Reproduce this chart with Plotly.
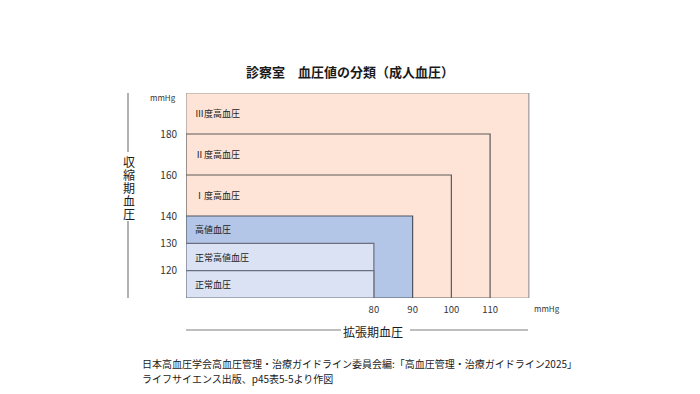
import plotly.graph_objects as go

# ---- data ----
categories = ["Ⅲ度高血圧", "Ⅱ度高血圧", "Ⅰ度高血圧", "高値血圧", "正常高値血圧", "正常血圧"]
dbp_upper = [120, 110, 100, 90, 80, 80]          # diastolic upper bound (mmHg)
sbp_upper = [200, 180, 160, 140, 130, 120]       # systolic upper bound (mmHg)
fill_colors = ["#FDE4D6", "#FDE4D6", "#FDE4D6", "#B4C6E7", "#DAE2F3", "#DAE2F3"]
x_ticks = [80, 90, 100, 110]
y_ticks = [120, 130, 140, 160, 180]

title = "診察室\u3000血圧値の分類（成人血圧）"
x_title = "拡張期血圧"
y_title = "収縮期血圧"
source_lines = ["日本高血圧学会高血圧管理・治療ガイドライン委員会編:「高血圧管理・治療ガイドライン2025」",
                "ライフサイエンス出版、p45表5-5より作図"]

FONT = "Noto Sans CJK JP"
X_LEFT = 31.5
X_RIGHT = 120.3


def sbp_pos(s):
    # schematic (non-linear) systolic scale: 10 mmHg steps below 140, 20 mmHg steps above
    if s <= 140:
        return (s - 110) / 10
    return 3 + (s - 140) / 20 * 1.5


Y_TOP = sbp_pos(200)

W, H = 700, 394
ML, MR, MT, MB = 186, 170, 93, 96
PW, PH = W - ML - MR, H - MT - MB


def px(xp):
    return (xp - ML) / PW


def py(yp):
    return (H - MB - yp) / PH


fig = go.Figure()
# invisible trace to set up axes
fig.add_trace(go.Scatter(x=[X_LEFT, X_RIGHT], y=[0, Y_TOP], mode="markers",
                         marker=dict(opacity=0), hoverinfo="skip", showlegend=False))

shapes = []
annotations = []
border_colors = ["#9A9A9A", "#5A5A5A", "#5A5A5A", "#4F5560", "#6B7080", "#6B7080"]
for i, (cat, d, s, c) in enumerate(zip(categories, dbp_upper, sbp_upper, fill_colors)):
    shapes.append(dict(type="rect", xref="x", yref="y", x0=X_LEFT, x1=d, y0=0, y1=sbp_pos(s),
                       fillcolor=c, line=dict(color=border_colors[i], width=1.2), layer="below"))
    lower = sbp_upper[i + 1] if i + 1 < len(sbp_upper) else 110
    ymid = (sbp_pos(s) + sbp_pos(lower)) / 2
    annotations.append(dict(x=X_LEFT, y=ymid, xref="x", yref="y", text=cat, showarrow=False,
                            xanchor="left", yanchor="middle", xshift=7,
                            font=dict(family=FONT, size=9, color="#222")))


def pa(text, x, y, size, xanchor="center", **kw):
    return dict(text=text, x=px(x), y=py(y), xref="paper", yref="paper", showarrow=False,
                xanchor=xanchor, yanchor="middle", font=dict(family=FONT, size=size, color="#1a1a1a"), **kw)


annotations += [
    pa("<b>" + title + "</b>", 350, 72, 13),
    dict(text="mmHg", x=X_LEFT, y=Y_TOP, xref="x", yref="y", showarrow=False,
         xanchor="right", yanchor="middle", xshift=-8, yshift=-4,
         font=dict(family=FONT, size=8, color="#333")),
    dict(text="mmHg", x=X_RIGHT, y=0, xref="x", yref="y", showarrow=False,
         xanchor="left", yanchor="middle", xshift=2, yshift=-10,
         font=dict(family=FONT, size=8, color="#333")),
    pa(x_title, 373, 331, 12),
]
for i, line in enumerate(source_lines):
    annotations.append(pa(line, 140, 363 + 15 * i, 10, xanchor="left"))
for i, ch in enumerate(y_title):
    annotations.append(pa(ch, 129, 161 + 13 * i, 12, height=13, borderpad=0))

line_col = "#7F7F7F"
for (x0, y0, x1, y1) in [(128, 93, 128, 152), (128, 221, 128, 298),
                         (186, 330, 341, 330), (410, 330, 528, 330)]:
    shapes.append(dict(type="line", xref="paper", yref="paper",
                       x0=px(x0), y0=py(y0), x1=px(x1), y1=py(y1),
                       line=dict(color=line_col, width=1.2)))

fig.update_layout(
    width=W, height=H,
    margin=dict(l=ML, r=MR, t=MT, b=MB, pad=0),
    paper_bgcolor="white", plot_bgcolor="rgba(0,0,0,0)",
    shapes=shapes, annotations=annotations, showlegend=False,
    xaxis=dict(range=[X_LEFT, X_RIGHT], tickvals=x_ticks, ticktext=[str(v) for v in x_ticks],
               showgrid=False, zeroline=False, showline=False, ticks="", ticklabelstandoff=4,
               tickfont=dict(family=FONT, size=9.5, color="#333"), fixedrange=True),
    yaxis=dict(range=[0, Y_TOP], tickvals=[sbp_pos(v) for v in y_ticks],
               ticktext=[str(v) for v in y_ticks],
               showgrid=False, zeroline=False, showline=False, ticks="", ticklabelstandoff=8,
               tickfont=dict(family=FONT, size=10, color="#333"), fixedrange=True),
)

fig.write_html("out.html")
